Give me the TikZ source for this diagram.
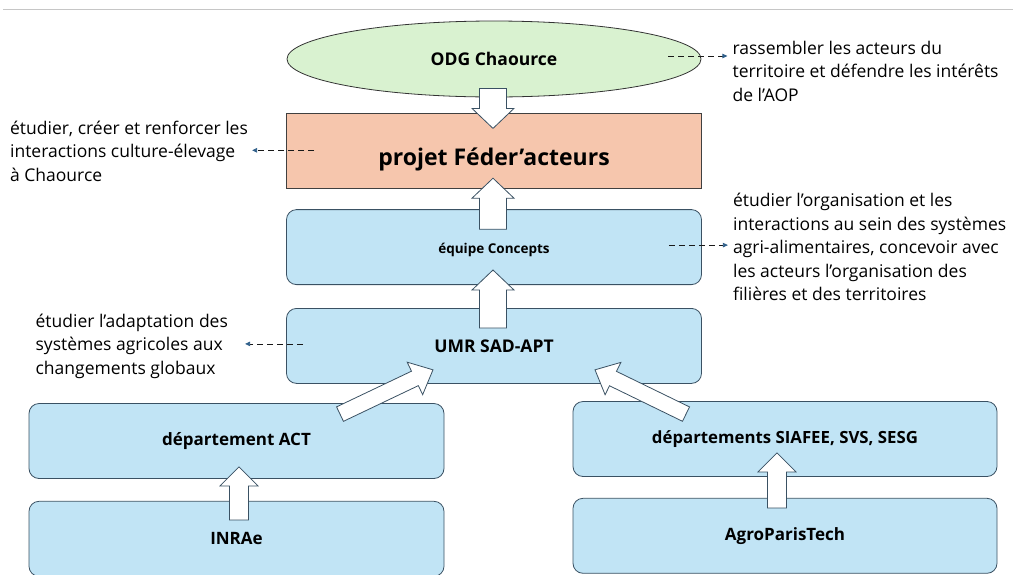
\documentclass[tikz,border=0pt]{standalone}
\usepackage{fontspec}
\setmainfont{Open Sans}
\usetikzlibrary{arrows.meta,shapes.geometric,positioning,calc}
\definecolor{boxblue}{HTML}{C1E4F5}
\definecolor{boxsalmon}{HTML}{F6C6AD}
\definecolor{boxgreen}{HTML}{D9F2D0}
\definecolor{edgeline}{HTML}{3A5163}
\definecolor{tipblue}{HTML}{2F5F8A}

\newcommand{\blockarrow}[5]{\draw[hollow] let \p1=#1, \p2=#2, \n1={atan2(\y2-\y1,\x2-\x1)}, \n2={veclen(\x2-\x1,\y2-\y1)} in
  [shift={(\p1)},rotate=\n1] (0,-#3) -- (\n2-#5,-#3) -- (\n2-#5,-#4) -- (\n2,0) -- (\n2-#5,#4) -- (\n2-#5,#3) -- (0,#3) -- cycle;}

\begin{document}
\begin{tikzpicture}[x=1pt, y=1pt, node distance=20pt,
    box/.style = {rectangle, rounded corners=10pt, draw=edgeline, fill=boxblue, line width=0.8pt,
      minimum width=415pt, minimum height=75pt, font=\bfseries\fontsize{17}{20}\selectfont},
    side/.style = {align=left, inner sep=0pt, font=\fontsize{17.5}{23.5}\selectfont},
    hollow/.style = {draw=edgeline, fill=white, line width=0.8pt, line join=miter},
    dasharrow/.style = {draw=black!90, line width=0.8pt, dash pattern=on 6pt off 4pt,
      -{Triangle[length=5pt,width=4.5pt,color=tipblue]}}]
\useasboundingbox (0,0) rectangle (1013,-574);
\draw[gray!45, line width=1pt] (3,-9) -- (1013,-9);
\node[ellipse, draw=black!80, fill=boxgreen, line width=0.8pt, minimum width=414pt, minimum height=76pt,
  font=\bfseries\fontsize{17.5}{20}\selectfont] (odg) at (494,-59) {ODG Chaource};
\node[box, rounded corners=0pt, fill=boxsalmon, draw=black!75, below=16pt of odg, text height=28pt, text depth=0pt,
  font=\bfseries\fontsize{23}{26}\selectfont] (projet) {projet Féder’acteurs};
\node[box, below=20pt of projet, text height=13pt, text depth=0pt,
  font=\bfseries\fontsize{13.5}{16}\selectfont] (equipe) {équipe Concepts};
\node[box, below=23pt of equipe, font=\bfseries\fontsize{17.5}{20}\selectfont] (umr) {UMR SAD-APT};
\node[box] (act) at (236.5,-441) {département ACT};
\node[box, below=22pt of act] (inrae) {INRAe};
\node[box, minimum width=424pt, font=\bfseries\fontsize{16.8}{20}\selectfont] (siafee) at (785,-439) {départements SIAFEE, SVS, SESG};
\node[box, minimum width=424pt, below=21pt of siafee] (agro) {AgroParisTech};
\node[side, right=31pt of odg, yshift=-12pt] (aop) {rassembler les acteurs du\\territoire et défendre les intérêts\\de l’AOP};
\node[side, left=38pt of projet] (culture) {étudier, créer et renforcer les\\interactions culture-élevage\\à Chaource};
\node[side, right=31pt of equipe] (concepts) {étudier l’organisation et les\\interactions au sein des systèmes\\agri-alimentaires, concevoir avec\\les acteurs l’organisation des\\filières et des territoires};
\node[side, left=58pt of umr] (adapt) {étudier l’adaptation des\\systèmes agricoles aux\\changements globaux};
\blockarrow{($(odg.south)+(-1,9)$)}{($(projet.north)+(-1,-15)$)}{13.5}{21}{20}
\blockarrow{($(equipe.north)+(-1,-20)$)}{($(projet.south)+(-1,11)$)}{13.5}{21}{20}
\blockarrow{($(umr.north)+(-1,-20)$)}{($(equipe.south)+(-1,15)$)}{13.5}{21}{20}
\blockarrow{($(act.north)+(103.5,-11)$)}{($(umr.south)+(-61,14)$)}{8}{18}{20}
\blockarrow{($(siafee.north)+(-99,-13)$)}{($(umr.south)+(101,14)$)}{8}{18}{20}
\blockarrow{($(inrae.north)+(2.5,-19)$)}{($(act.south)+(2.5,12)$)}{9.5}{19}{19}
\blockarrow{($(agro.north)+(-8,-10)$)}{($(siafee.south)+(-8,24)$)}{9.5}{19}{19}
\coordinate (d1) at ($(odg.east)+(-33,3)$);
\coordinate (d2) at ($(projet.west)+(28,1)$);
\coordinate (d3) at ($(equipe.east)+(-33,2)$);
\coordinate (d4) at ($(umr.west)+(17,2)$);
\draw[dasharrow] (d1) -- ($(d1 -| aop.west)+(-5,0)$);
\draw[dasharrow] (d2) -- ($(d2 -| culture.east)+(4,0)$);
\draw[dasharrow] (d3) -- ($(d3 -| concepts.west)+(-5,0)$);
\draw[dasharrow] (d4) -- ($(d4 -| adapt.east)+(17,0)$);
\end{tikzpicture}
\end{document}
